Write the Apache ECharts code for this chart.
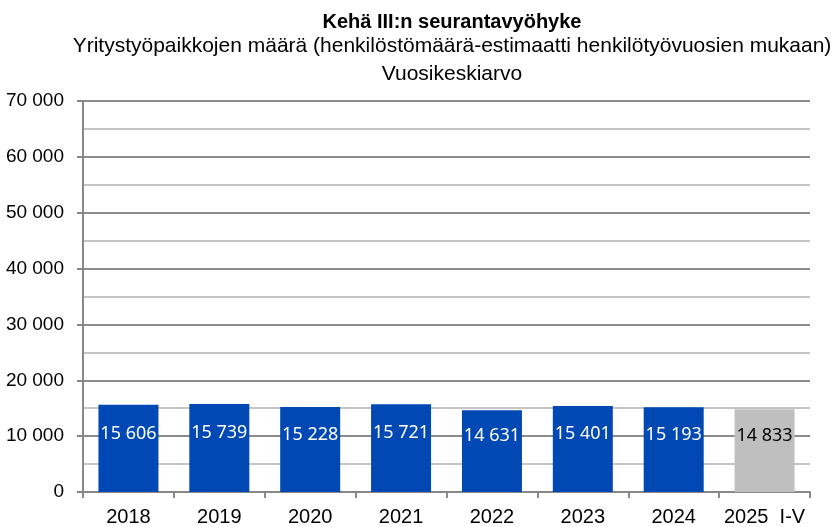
<!DOCTYPE html>
<html>
<head>
<meta charset="utf-8">
<script src="https://cdn.jsdelivr.net/npm/echarts@6/dist/echarts.min.js"></script>
<style>
  html, body { margin: 0; padding: 0; background: #fff; }
  #chart { width: 833px; height: 527px; }
</style>
</head>
<body>
<div id="chart"></div>
<script>
var years = ['2018', '2019', '2020', '2021', '2022', '2023', '2024', '2025  I-V'];
var jobs = [15606, 15739, 15228, 15721, 14631, 15401, 15193, 14833];
var yTicks = [0, 10000, 20000, 30000, 40000, 50000, 60000, 70000];

function fmt(v) {
    return String(v).replace(/\B(?=(\d{3})+(?!\d))/g, ' ');
}

function init() {
    var myChart = echarts.init(document.getElementById('chart'));

    var data = jobs.map(function (v, i) {
        var last = i === jobs.length - 1;
        return {
            value: v,
            itemStyle: { color: last ? '#bfbfbf' : '#0048b4' },
            label: { color: last ? '#000' : '#fff' }
        };
    });

    myChart.setOption({
        animation: false,
        title: [
            {
                text: 'Kehä III:n seurantavyöhyke',
                left: 447, top: 7, textAlign: 'center',
                textStyle: { fontFamily: 'Liberation Sans', fontWeight: 'bold', fontSize: 20, color: '#000' }
            },
            {
                text: 'Yritystyöpaikkojen määrä (henkilöstömäärä-estimaatti henkilötyövuosien mukaan)\nVuosikeskiarvo',
                left: 447, top: 27, textAlign: 'center',
                textStyle: { fontFamily: 'Liberation Sans', fontWeight: 'normal', fontSize: 21, lineHeight: 28, color: '#000' }
            }
        ],
        grid: { left: 83, right: 23, top: 101, bottom: 32 },
        xAxis: {
            type: 'category',
            data: years,
            axisLine: { lineStyle: { color: '#888', width: 2 } },
            axisTick: { show: true, interval: 0, length: 6, lineStyle: { color: '#888', width: 2 } },
            axisLabel: { interval: 0, color: '#000', fontFamily: 'Liberation Sans', fontSize: 20, margin: 15 }
        },
        yAxis: {
            type: 'value',
            min: yTicks[0],
            max: yTicks[yTicks.length - 1],
            interval: 10000,
            axisLine: { show: true, lineStyle: { color: '#888', width: 2 } },
            axisTick: { show: true, length: 6, lineStyle: { color: '#888', width: 2 } },
            axisLabel: {
                color: '#000', fontFamily: 'Liberation Sans', fontSize: 19, margin: 19,
                formatter: function (v) { return fmt(v); }
            },
            splitLine: { lineStyle: { color: '#8c8c8c', width: 2 } },
            minorTick: { show: false, splitNumber: 2 },
            minorSplitLine: { show: true, lineStyle: { color: '#c4c4c4', width: 2 } }
        },
        series: [
            {
                type: 'bar',
                data: data,
                barWidth: 60,
                label: {
                    show: true,
                    position: 'inside',
                    offset: [0, -15],
                    fontFamily: 'Noto Sans',
                    fontSize: 18,
                    formatter: function (p) { return fmt(p.value); }
                }
            }
        ]
    });
}

document.addEventListener('DOMContentLoaded', function () {
    init();
});
</script>
</body>
</html>
